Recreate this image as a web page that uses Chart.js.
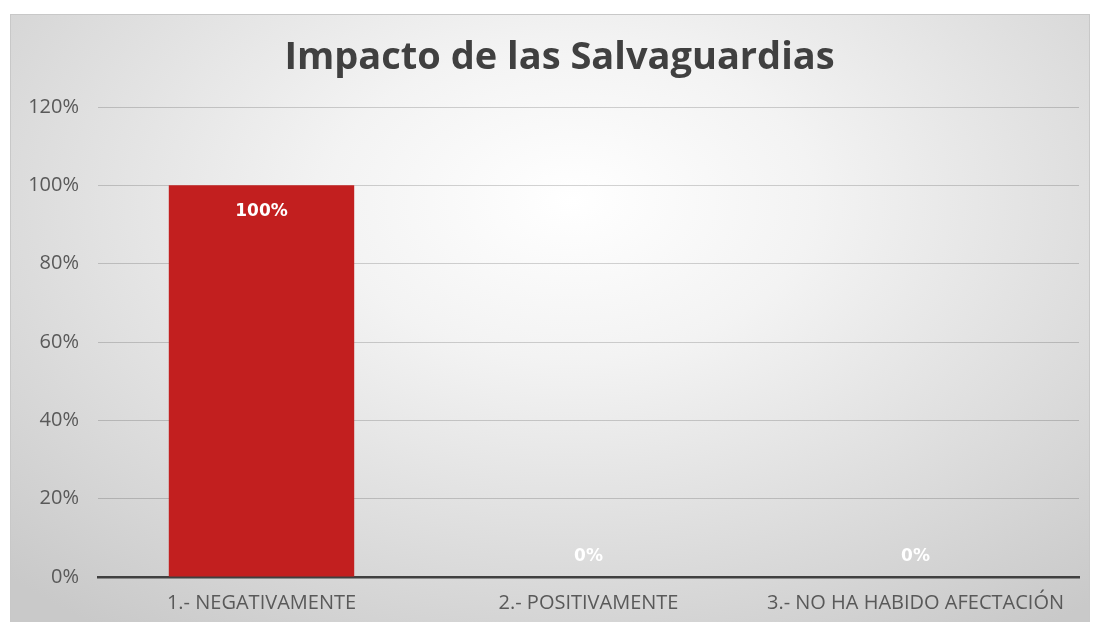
<!DOCTYPE html>
<html>
<head>
<meta charset="utf-8">
<script src="https://cdn.jsdelivr.net/npm/chart.js@4/dist/chart.umd.min.js"></script>
<style>
  html, body { margin: 0; padding: 0; background: #ffffff; width: 1096px; height: 622px; overflow: hidden; }
  #box {
    position: absolute; left: 10px; top: 14px; width: 1080px; height: 620px;
    border: 1px solid #c8c8c8; box-sizing: border-box;
    background: radial-gradient(ellipse 75% 85% at 52% 30%, #ffffff 0%, #f3f3f3 30%, #dedede 65%, #c9c9c9 100%);
  }
  #wrap { position: absolute; left: 0; top: 0; width: 1078px; height: 608px; }
</style>
</head>
<body>
<div id="box"><div id="wrap"><canvas id="c"></canvas></div></div>
<script>
const chartTitle = 'Impacto de las Salvaguardias';
const categories = ['1.- NEGATIVAMENTE', '2.- POSITIVAMENTE', '3.- NO HA HABIDO AFECTACIÓN'];
const values = [100, 0, 0];
const yMin = 0, yMax = 120, yStep = 20;

const valueLabels = {
  id: 'valueLabels',
  afterDatasetsDraw(chart) {
    const ctx = chart.ctx;
    const meta = chart.getDatasetMeta(0);
    ctx.save();
    ctx.font = 'bold 17px "DejaVu Sans"';
    ctx.fillStyle = '#ffffff';
    ctx.textAlign = 'center';
    ctx.textBaseline = 'middle';
    meta.data.forEach((bar, i) => {
      const v = chart.data.datasets[0].data[i];
      const h = bar.base - bar.y;
      const y = h > 40 ? bar.y + 26 : bar.base - 20;
      ctx.fillText(v + '%', bar.x, y);
    });
    ctx.restore();
  }
};

// chart title, centred over the plot region like the original
const titleDraw = {
  id: 'titleDraw',
  afterDraw(chart) {
    const ctx = chart.ctx;
    ctx.save();
    ctx.font = 'bold 38px "Open Sans"';
    ctx.fillStyle = '#404040';
    ctx.textAlign = 'center';
    ctx.textBaseline = 'middle';
    ctx.fillText(chartTitle, (chart.chartArea.left + chart.chartArea.right) / 2 - 29, 43);
    ctx.restore();
  }
};

new Chart(document.getElementById('c'), {
  type: 'bar',
  data: {
    labels: categories,
    datasets: [{
      data: values,
      backgroundColor: '#c21f1f',
      borderWidth: 0,
      categoryPercentage: 1,
      barPercentage: 0.567
    }]
  },
  options: {
    responsive: true,
    maintainAspectRatio: false,
    animation: false,
    layout: { padding: { left: 0, right: 10, top: 92, bottom: 0 } },
    plugins: {
      legend: { display: false },
      tooltip: { enabled: false },
      title: { display: false }
    },
    scales: {
      x: {
        grid: { display: false, drawTicks: false },
        border: { display: true, color: '#404040', width: 2.5 },
        ticks: { color: '#595959', font: { family: '"Open Sans"', size: 20 }, padding: 14, maxRotation: 0 },
        afterFit(scale) { scale.height = 46; }
      },
      y: {
        min: yMin, max: yMax,
        grid: { color: 'rgba(0,0,0,0.17)', lineWidth: 1, drawTicks: false },
        border: { display: false },
        ticks: {
          stepSize: yStep,
          color: '#595959',
          font: { family: '"Open Sans"', size: 20 },
          padding: 19,
          callback: v => v + '%'
        },
        afterFit(scale) { scale.width = 87; }
      }
    }
  },
  plugins: [valueLabels, titleDraw]
});
</script>
</body>
</html>
